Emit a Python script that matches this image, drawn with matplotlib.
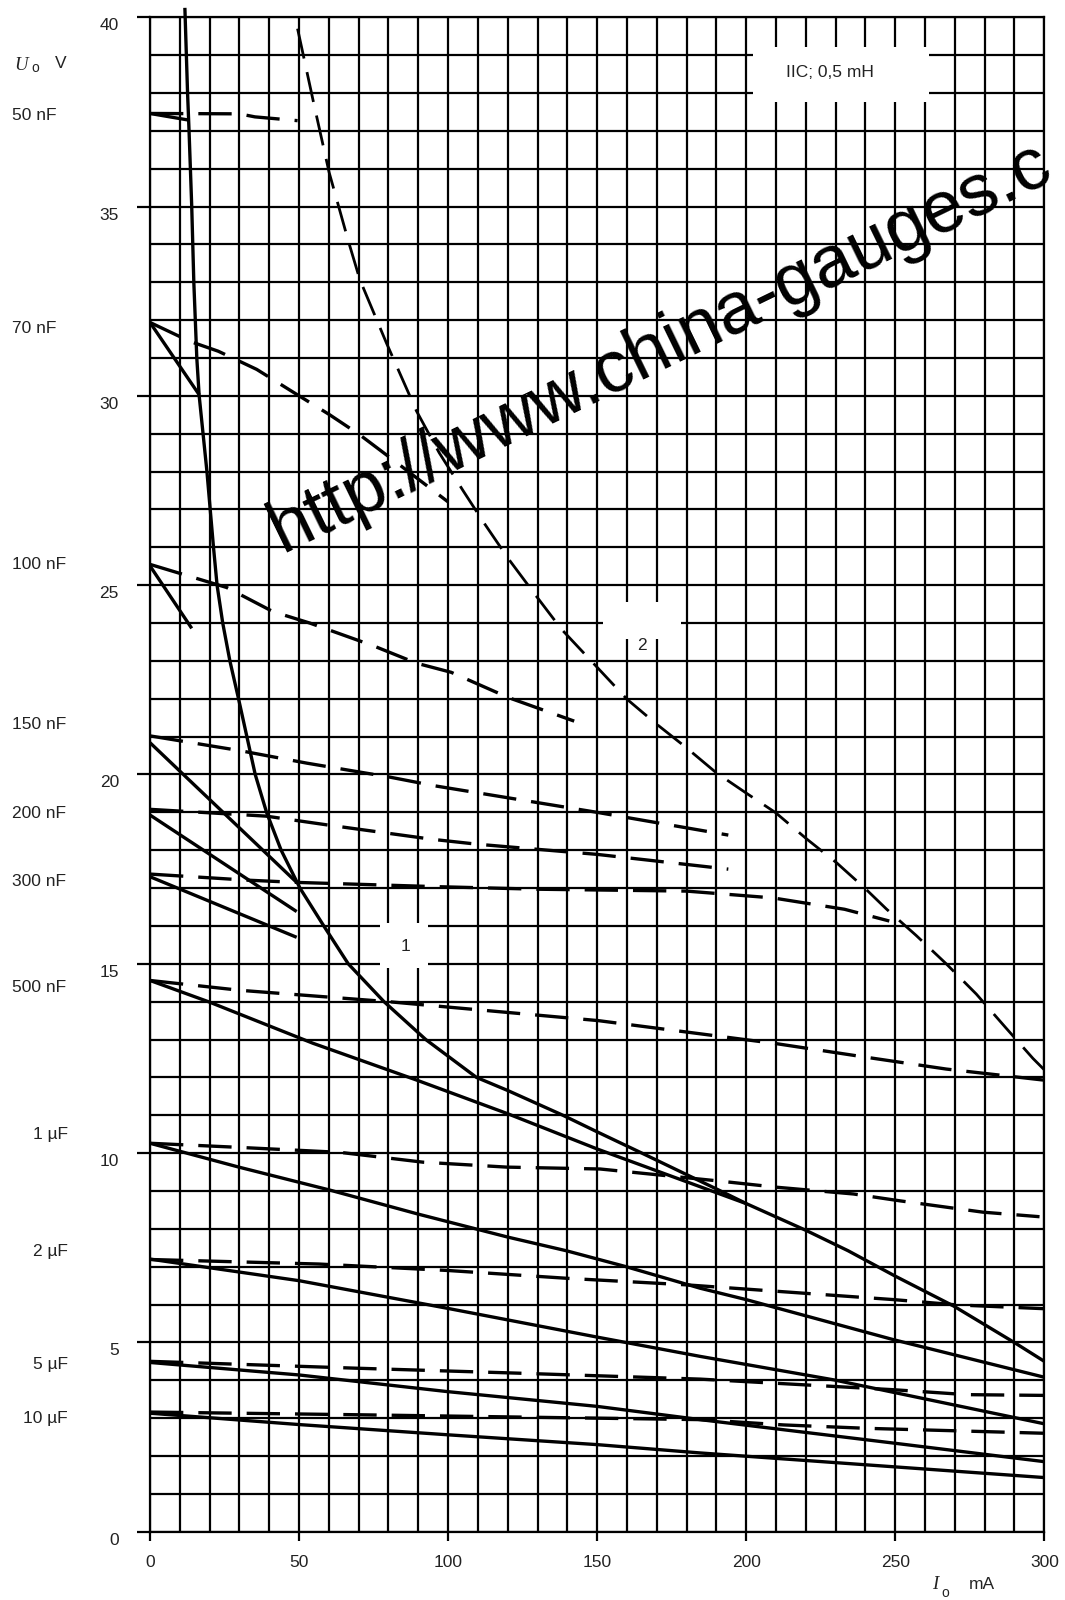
import matplotlib
matplotlib.use("Agg")
import matplotlib.pyplot as plt
from matplotlib.patches import Rectangle
from matplotlib.transforms import ScaledTranslation, blended_transform_factory

# ---------------- data (mA, V) ----------------
curve1_x = [11.7, 12.6, 13.1, 14.0, 14.7, 15.7, 16.5, 17.8, 19.1, 20.2, 21.3, 22.5, 24.4, 26.8,
            29.7, 32.5, 35.3, 39.1, 44.0, 50.3, 58.3, 66.5, 78.5, 92.5, 109.5, 120.1, 138.5,
            150.3, 165.0, 190.1, 200.2, 220.3, 234.2, 250.0, 269.6, 290.3, 300.0]
curve1_y = [40.25, 38.0, 37.0, 35.0, 33.0, 31.0, 30.0, 29.0, 28.0, 27.0, 26.0, 25.0, 24.0, 23.0,
            22.0, 21.0, 20.0, 19.0, 18.0, 17.0, 16.0, 15.0, 14.0, 13.0, 12.0, 11.65, 11.0,
            10.55, 10.0, 9.05, 8.66, 7.95, 7.42, 6.75, 5.96, 4.98, 4.5]

curve2_x = [49.5, 55.0, 60.1, 66.5, 70.4, 79.3, 89.4, 97.0, 105.0, 112.0, 120.3, 129.5, 138.0,
            148.0, 160.0, 169.3, 179.9, 189.9, 199.8, 209.9, 220.4, 230.3, 239.9, 247.0, 257.0,
            267.1, 277.2, 287.2, 296.2, 300.0]
curve2_y = [39.7, 37.7, 35.9, 34.1, 33.07, 31.4, 29.6, 28.5, 27.5, 26.65, 25.69, 24.72, 23.84,
            23.0, 21.99, 21.37, 20.71, 20.05, 19.52, 18.99, 18.29, 17.67, 16.99, 16.45, 15.75,
            15.0, 14.2, 13.3, 12.5, 12.2]

# capacitance curves: solid (s_) and dashed (d_)
s50_x = [0, 12.6];                  s50_y = [37.46, 37.29]
d50_x = [0, 30, 35.2, 49.5];        d50_y = [37.46, 37.45, 37.37, 37.27]
s70_x = [0, 16.5];                  s70_y = [31.94, 30.03]
d70_x = [0, 13.4, 22.9, 35.8, 48, 60.3, 70.4, 82.7, 100]
d70_y = [31.94, 31.44, 31.18, 30.7, 30.1, 29.5, 28.97, 28.24, 27.2]
s100_x = [0, 14];                   s100_y = [25.51, 23.86]
d100_x = [0, 25.7, 41.3, 53.6, 74.9, 89.4, 101, 120.3, 142.3]
d100_y = [25.55, 24.94, 24.3, 24.0, 23.4, 22.94, 22.7, 22.03, 21.41]
s150_x = [0, 49.2];                 s150_y = [20.84, 17.15]
d150_x = [0, 30.2, 52.6, 80.5, 95.6, 150, 194]
d150_y = [21.02, 20.63, 20.3, 19.93, 19.7, 19.0, 18.4]
s200_x = [0, 49.2];                 s200_y = [18.93, 16.38]
d200_x = [0, 39, 59.3, 94.5, 109.6, 150, 194]
d200_y = [19.08, 18.9, 18.67, 18.29, 18.16, 17.89, 17.5]
s300_x = [0, 49.2];                 s300_y = [17.30, 15.70]
d300_x = [0, 32.4, 49.2, 95, 130, 180, 209, 233, 248]
d300_y = [17.37, 17.21, 17.15, 17.04, 16.97, 16.92, 16.74, 16.44, 16.13]
s500_x = [0, 19.9, 54.7, 89.4, 120, 150.3, 200.2]
s500_y = [14.56, 13.99, 12.9, 11.93, 11.04, 10.1, 8.66]
d500_x = [0, 30.2, 79.9, 108, 150.3, 210.2, 240.4, 267.1, 299.6]
d500_y = [14.56, 14.3, 14.0, 13.8, 13.5, 12.89, 12.53, 12.22, 11.93]
s1u_x = [0, 29.8, 60, 89.9, 120.1, 139.7, 159.7, 184.6, 200, 249.5, 300]
s1u_y = [10.26, 9.63, 9.03, 8.39, 7.78, 7.42, 7.0, 6.43, 6.13, 5.07, 4.08]
d1u_x = [0, 30.2, 63.7, 91.6, 119.6, 151, 190, 210, 236, 251.5, 279.4, 298.4]
d1u_y = [10.26, 10.15, 10.02, 9.76, 9.63, 9.58, 9.27, 9.1, 8.92, 8.74, 8.44, 8.32]
s2u_x = [0, 50, 99.8, 150, 184.6, 229.4, 300]
s2u_y = [7.2, 6.63, 5.9, 5.14, 4.63, 4.01, 2.85]
d2u_x = [0, 56.6, 99.8, 140.5, 180, 249.5, 270.7, 300]
d2u_y = [7.19, 7.07, 6.9, 6.69, 6.52, 6.13, 5.99, 5.89]
s5u_x = [0, 50, 99.8, 150, 184.6, 249.5, 300]
s5u_y = [4.47, 4.14, 3.7, 3.31, 2.96, 2.34, 1.85]
d5u_x = [0, 68.6, 122.5, 184.6, 249.5, 274, 300]
d5u_y = [4.5, 4.32, 4.19, 4.03, 3.75, 3.62, 3.6]
s10u_x = [0, 50, 99.8, 150, 184.6, 300]
s10u_y = [3.13, 2.83, 2.56, 2.3, 2.08, 1.43]
d10u_x = [0, 68.6, 184.6, 212.6, 240.6, 300]
d10u_y = [3.16, 3.09, 2.96, 2.82, 2.73, 2.6]

cap_labels = ['50 nF', '70 nF', '100 nF', '150 nF', '200 nF', '300 nF', '500 nF',
              '1 µF', '2 µF', '5 µF', '10 µF']
cap_label_v = [37.40, 31.78, 25.54, 21.32, 18.96, 17.17, 14.37, 10.49, 7.40, 4.41, 2.98]

x_ticks = [0, 50, 100, 150, 200, 250, 300]
y_ticks = [0, 5, 10, 15, 20, 25, 30, 35, 40]

# ---------------- figure ----------------
W, H = 1065, 1600
fig = plt.figure(figsize=(W / 100, H / 100), dpi=100)
ax = fig.add_axes([150 / W, 1 - 1531.7 / H, (1044.3 - 150) / W, (1531.7 - 17.3) / H])

FONT = 'Liberation Sans'
TXT = '#222222'
GLW = 1.6
LW = 2.4

ax.set_xlim(0, 300)
ax.set_ylim(0, 40)
ax.set_xticks(x_ticks)
ax.set_yticks(y_ticks)
ax.set_xticks(range(0, 301, 10), minor=True)
ax.set_yticks(range(0, 41, 1), minor=True)
ax.grid(True, which='both', color='black', linewidth=GLW)
ax.set_axisbelow(True)
for sp in ax.spines.values():
    sp.set_linewidth(GLW)
    sp.set_color('black')
ax.tick_params(axis='y', which='major', length=9.4, width=GLW, pad=13,
               labelsize=12.5, labelcolor=TXT)
ax.tick_params(axis='x', which='major', length=6.5, width=GLW, pad=10,
               labelsize=12.5, labelcolor=TXT)
ax.tick_params(which='minor', length=0)
for lab in ax.get_xticklabels() + ax.get_yticklabels():
    lab.set_fontfamily(FONT)
off = ScaledTranslation(0, -7 / 100, fig.dpi_scale_trans)
for lab in ax.get_yticklabels():
    lab.set_transform(lab.get_transform() + off)

# white label boxes
for (x0, x1, y0, y1) in [(202.2, 261.2, 37.77, 39.22), (77.2, 93.4, 14.88, 16.09),
                         (152.0, 178.0, 23.57, 24.55)]:
    ax.add_patch(Rectangle((x0, y0), x1 - x0, y1 - y0, facecolor='white',
                           edgecolor='none', zorder=1))
ax.text(228.2, 38.55, 'IIC; 0,5 mH', ha='center', va='center', fontsize=12.5,
        family=FONT, color=TXT, zorder=3)
ax.text(85.6, 15.45, '1', ha='center', va='center', fontsize=12.5,
        family=FONT, color=TXT, zorder=3)
ax.text(165.0, 23.42, '2', ha='center', va='center', fontsize=12.5,
        family=FONT, color=TXT, zorder=3)

# curves
solid = dict(color='black', linewidth=LW, solid_capstyle='butt', solid_joinstyle='round', zorder=4)
dashed = dict(color='black', linewidth=LW, linestyle=(0, (10, 4.5)), zorder=4)

ax.plot(curve1_x, curve1_y, clip_on=False, **solid)
ax.plot(curve2_x, curve2_y, **dict(dashed, linewidth=2.0, linestyle=(0, (11, 5))))

for sx, sy in [(s50_x, s50_y), (s70_x, s70_y), (s100_x, s100_y), (s150_x, s150_y),
               (s200_x, s200_y), (s300_x, s300_y), (s500_x, s500_y), (s1u_x, s1u_y),
               (s2u_x, s2u_y), (s5u_x, s5u_y), (s10u_x, s10u_y)]:
    ax.plot(sx, sy, **solid)
for dx, dy in [(d50_x, d50_y), (d70_x, d70_y), (d100_x, d100_y), (d150_x, d150_y),
               (d200_x, d200_y), (d300_x, d300_y), (d500_x, d500_y), (d1u_x, d1u_y),
               (d2u_x, d2u_y), (d5u_x, d5u_y), (d10u_x, d10u_y)]:
    ax.plot(dx, dy, **dashed)

# capacitance labels on the left
btr = blended_transform_factory(fig.transFigure, ax.transData)
for lab, v in zip(cap_labels, cap_label_v):
    if 'nF' in lab:
        ax.text(12 / W, v, lab, transform=btr, ha='left', va='center', fontsize=12.5,
                family=FONT, color=TXT, clip_on=False)
    else:
        ax.text(68 / W, v, lab, transform=btr, ha='right', va='center', fontsize=12.5,
                family=FONT, color=TXT, clip_on=False)

# axis titles
fig.text(14 / W, 1 - 70.5 / H, 'U', family='Liberation Serif', style='italic',
         fontsize=13.5, color=TXT, va='baseline', ha='left')
fig.text(31 / W, 1 - 72 / H, 'o', family=FONT, fontsize=10, color=TXT,
         va='baseline', ha='left')
fig.text(55 / W, 1 - 68.5 / H, 'V', family=FONT, fontsize=12.5, color=TXT,
         va='baseline', ha='left')
fig.text(932 / W, 1 - 1589 / H, 'I', family='Liberation Serif', style='italic',
         fontsize=13.5, color=TXT, va='baseline', ha='left')
fig.text(941 / W, 1 - 1597 / H, 'o', family=FONT, fontsize=10, color=TXT,
         va='baseline', ha='left')
fig.text(969 / W, 1 - 1589 / H, 'mA', family=FONT, fontsize=12.5, color=TXT,
         va='baseline', ha='left')

# watermark
fig.text(282 / W, 1 - 553 / H, 'http://www.china-gauges.c', family=FONT,
         fontsize=53, color='black', rotation=25.9, rotation_mode='anchor',
         ha='left', va='baseline', zorder=10)

fig.savefig('out.png', dpi=100)
